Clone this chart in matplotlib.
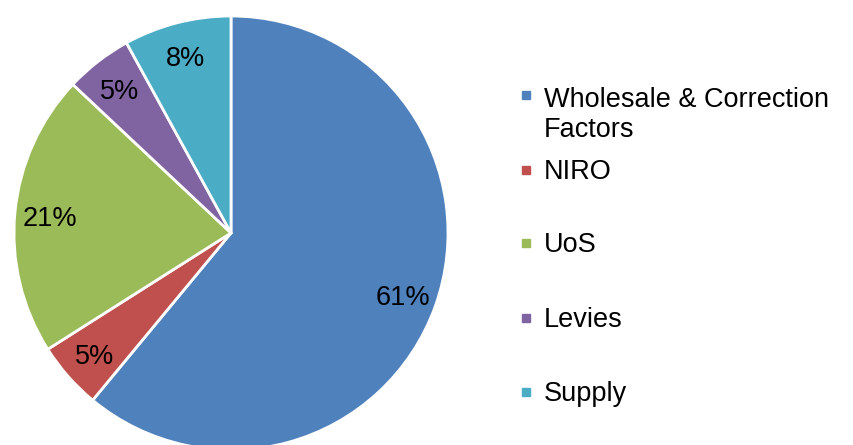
import matplotlib
matplotlib.use("Agg")
import matplotlib.pyplot as plt
from matplotlib.lines import Line2D

plt.rcParams['font.family'] = ['Liberation Sans', 'DejaVu Sans']

# shares of the bill, clockwise from 12 o'clock
categories = ["Wholesale & Correction\nFactors", "NIRO", "UoS", "Levies", "Supply"]
shares = [61, 5, 21, 5, 8]
colors = ["#4F81BD", "#C0504D", "#9BBB59", "#8064A2", "#4BACC6"]

W, H = 854, 445
fig = plt.figure(figsize=(W / 100, H / 100), dpi=100)

# pie centre ~(231, 233) px, radius ~217 px
cx, cy, r = 231, 233, 217
ax = fig.add_axes([(cx - r) / W, (H - cy - r) / H, 2 * r / W, 2 * r / H])
wedges, texts, autotexts = ax.pie(
    shares, colors=colors, startangle=90, counterclock=False,
    autopct="%d%%", pctdistance=0.84,
    wedgeprops=dict(edgecolor="white", linewidth=2),
    textprops=dict(fontsize=19.5, color="black"),
)
for t in autotexts:
    t.set_va("center_baseline")
ax.set_xlim(-1, 1)
ax.set_ylim(-1, 1)
ax.set_aspect("equal")

# legend on the right, spaced like the original (first-line baselines in px)
legend_y = [104, 179, 252, 327, 401]
line_px = 33
for label, col, y in zip(categories, colors, legend_y):
    fig.add_artist(Line2D([526 / W], [1 - (y - 9) / H], marker="s", markersize=6,
                          color=col, linestyle="none", transform=fig.transFigure))
    last_base = y + line_px * label.count("\n")
    fig.text(544 / W, 1 - last_base / H, label, fontsize=19.5, va="baseline",
             ha="left", linespacing=1.22)

fig.savefig("out.png", dpi=100)
